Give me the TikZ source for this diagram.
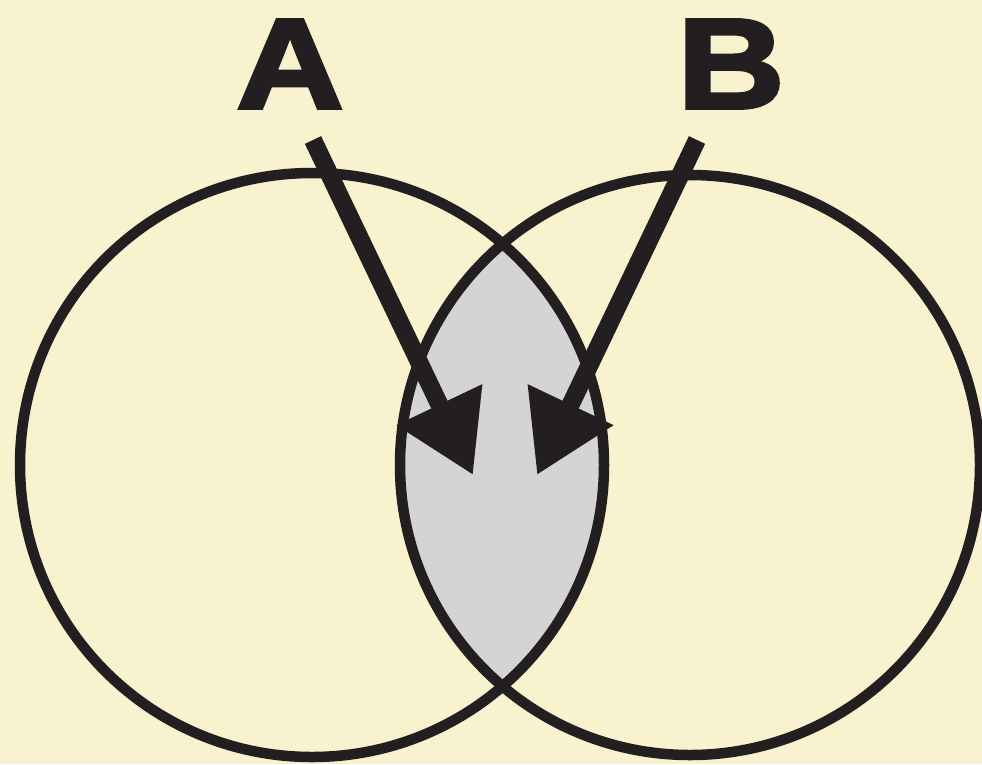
\documentclass[tikz,border=0pt]{standalone}
\usepackage{fontspec}
\usetikzlibrary{arrows.meta}
\newfontfamily\heavyfont{Liberation Sans}[BoldFeatures={FakeBold=3,FakeStretch=1.16}]
\definecolor{bgcream}{RGB}{248,242,206}
\definecolor{lensgray}{RGB}{212,212,212}
\definecolor{ink}{RGB}{35,31,32}
\begin{document}
\begin{tikzpicture}[x=1pt,y=-1pt,
  ring/.style={draw=ink,line width=10.5pt},
  pointer/.style={draw=ink,fill=ink,line width=18pt,-{Triangle[length=78pt,width=90pt]}},
  letter/.style={text=ink,font=\heavyfont\bfseries\fontsize{128}{128}\selectfont,inner sep=0pt,anchor=base}]
\useasboundingbox (0,0) rectangle (982,764);
\fill[bgcream] (0,0) rectangle (982,764);
\coordinate (cl) at (312,465);
\coordinate (cr) at (690,465);
\begin{scope}
  \clip (cl) circle [radius=292];
  \fill[lensgray] (cr) circle [radius=290];
\end{scope}
\draw[ring] (cl) circle [radius=292];
\draw[ring] (cr) circle [radius=290];
\node[letter] (A) at (290,108) {A};
\node[letter] (B) at (731,108) {B};
\coordinate (as) at (313,140);
\coordinate (at) at (473,475);
\coordinate (bs) at (697,140);
\coordinate (bt) at (537,475);
\draw[pointer] (as) -- (at);
\draw[pointer] (bs) -- (bt);
\end{tikzpicture}
\end{document}
